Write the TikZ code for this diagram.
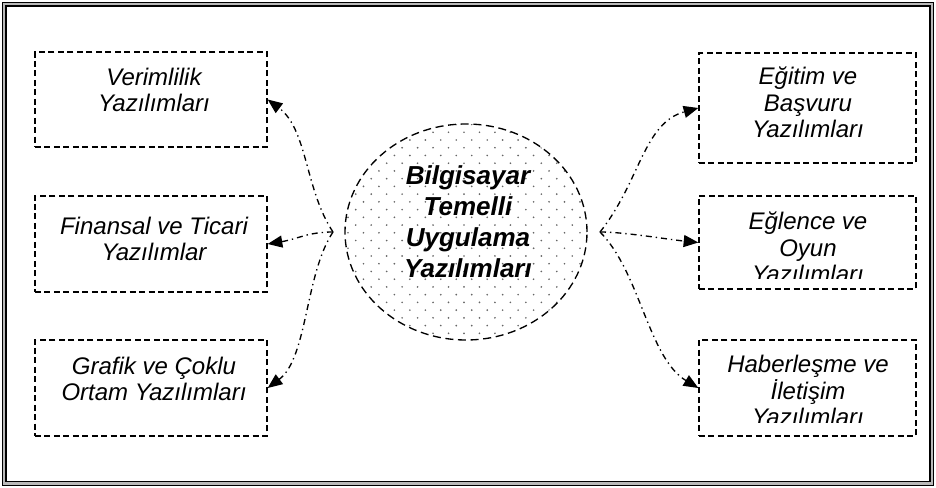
\documentclass[tikz,border=0pt]{standalone}
\usepackage{fontspec}
\setmainfont{Liberation Sans}
\usetikzlibrary{arrows.meta,shapes.geometric,patterns}

% dot grid for the centre ellipse
\pgfdeclarepatternformonly{sparse dots}{\pgfqpoint{-1pt}{-1pt}}{\pgfqpoint{12.6pt}{12.6pt}}{\pgfqpoint{11.6pt}{11.6pt}}{%
  \pgfpathcircle{\pgfqpoint{0pt}{0pt}}{0.7pt}%
  \pgfpathcircle{\pgfqpoint{5.8pt}{5.8pt}}{0.7pt}%
  \pgfusepath{fill}}

\tikzset{
  appbox/.style={draw, line width=1pt, dash pattern=on 4.5pt off 2.6pt, minimum height=72pt, inner sep=0pt},
  lbox/.style={appbox, minimum width=174pt},
  rbox/.style={appbox, minimum width=162.75pt},
  boxtext/.style={align=center, inner sep=0pt, anchor=base, font=\fontsize{18pt}{20pt}\selectfont\itshape},
  flow/.style={line width=1pt, dash pattern=on 4.5pt off 3pt on 1pt off 3pt, -{Triangle[length=11pt,width=9pt]}}
}

\begin{document}
\begin{tikzpicture}[x=0.75pt,y=-0.75pt]
\useasboundingbox (0,0) rectangle (936,488);
% frame
\fill[gray!55, even odd rule] (2.5,2.5) rectangle (933.5,485.5) (6,6) rectangle (930,481.5);
\draw[line width=1.2pt] (2.5,2.5) rectangle (933.5,485.5);
\draw[line width=1.2pt] (6,6) rectangle (930,481.5);

% boxes
\node[lbox, minimum height=71.25pt] (verim) at (151,99.5) {};
\node[lbox] (finans) at (151,244) {};
\node[lbox] (grafik) at (151,388) {};
\node[rbox, minimum height=82.5pt] (egitim) at (807.5,108) {};
\node[rbox, minimum height=69.75pt] (eglence) at (807.5,242.5) {};
\node[rbox] (haber) at (807.5,388) {};

% base = last line
\node[boxtext] (verimT) at (154,112) {Verimlilik\\Yazılımları};
\node[boxtext] (finansT) at (154,261) {Finansal ve Ticari\\Yazılımlar};
\node[boxtext] (grafikT) at (154,401) {Grafik ve Çoklu\\Ortam Yazılımları};
\node[boxtext] (egitimT) at (808,138) {Eğitim ve\\Başvuru\\Yazılımları};
\begin{scope}
\clip (699,196) rectangle (916,279);
\node[boxtext] (eglenceT) at (808,283) {Eğlence ve\\Oyun\\Yazılımları};
\end{scope}
\begin{scope}
\clip (699,340) rectangle (916,423);
\node[boxtext] (haberT) at (808,426) {Haberleşme ve\\İletişim\\Yazılımları};
\end{scope}

% centre
\node[ellipse, draw, line width=1pt, dash pattern=on 6pt off 3.5pt, pattern=sparse dots, pattern color=gray!80!black,
      minimum width=181.5pt, minimum height=162pt, inner sep=0pt] (core) at (466,232) {};
\node[align=center, anchor=base, inner sep=0pt, font=\fontsize{19.5pt}{23.25pt}\selectfont\bfseries\itshape]
      (coreT) at (468,278) {Bilgisayar\\Temelli\\Uygulama\\Yazılımları};

\coordinate (hubL) at (333,232);
\coordinate (hubR) at (600,232);

\draw[flow] (hubL) .. controls +(-28,-42) and +(40,30) .. (verim.east);
\draw[flow] (hubL) .. controls +(-25,0) and +(30,-5) .. (finans.east);
\draw[flow] (hubL) .. controls +(-28,42) and +(40,-30) .. (grafik.east);
\draw[flow] (hubR) .. controls +(40,-50) and +(-55,15) .. (egitim.west);
\draw[flow] (hubR) .. controls +(25,0) and +(-30,-3) .. (eglence.west);
\draw[flow] (hubR) .. controls +(40,40) and +(-50,-30) .. (haber.west);
\end{tikzpicture}
\end{document}
